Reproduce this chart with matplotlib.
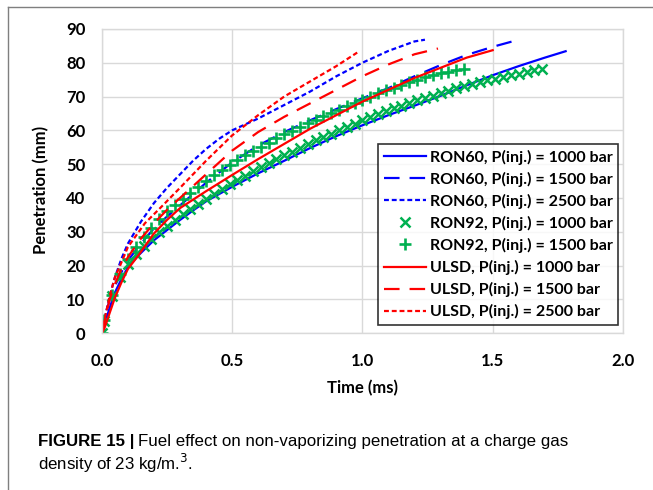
import matplotlib
matplotlib.use("Agg")
import matplotlib.pyplot as plt
from matplotlib.lines import Line2D

# RON60 (blue lines)
t_ron60_1000 = [0, 0.01, 0.03, 0.05, 0.075, 0.1, 0.14, 0.2, 0.25, 0.3, 0.35, 0.4, 0.5, 0.6, 0.7,
                0.8, 0.9, 1.0, 1.1, 1.2, 1.3, 1.4, 1.5, 1.6, 1.7, 1.78]
p_ron60_1000 = [0, 2.5, 7.5, 12, 16, 19.5, 23, 27.5, 30.5, 33.5, 36.3, 39, 43.3, 47.3, 51,
                54.8, 58.3, 61.5, 64.5, 67.3, 70.2, 73.3, 76.3, 79, 81.5, 83.4]
t_ron60_1500 = [0, 0.01, 0.03, 0.05, 0.075, 0.1, 0.15, 0.2, 0.25, 0.3, 0.4, 0.5, 0.6, 0.7, 0.8,
                0.9, 1.0, 1.1, 1.2, 1.3, 1.4, 1.5, 1.59]
p_ron60_1500 = [0, 4, 10, 14, 18, 21.5, 26.5, 31, 34.5, 37.8, 44.5, 50.5, 55.5, 59.5, 63,
                66.3, 69.5, 72.5, 76, 79.3, 82.3, 84.7, 86.6]
t_ron60_2500 = [0, 0.01, 0.03, 0.05, 0.075, 0.1, 0.15, 0.2, 0.25, 0.3, 0.35, 0.4, 0.45, 0.5, 0.6,
                0.7, 0.8, 0.9, 1.0, 1.1, 1.2, 1.24]
p_ron60_2500 = [0, 4, 11, 16.5, 22, 26.5, 33, 38.5, 43, 47, 51, 54.5, 57.5, 60, 63.5,
                67.5, 71.5, 76, 80, 83.5, 86.3, 86.8]

# RON92 (green markers)
t_ron92_1000 = [0, 0.01, 0.04, 0.07, 0.10, 0.13, 0.16, 0.19, 0.22, 0.25, 0.28, 0.31, 0.34, 0.37,
                0.40, 0.43, 0.46, 0.49, 0.52, 0.55, 0.58, 0.61, 0.64, 0.67, 0.70, 0.73, 0.76,
                0.79, 0.82, 0.85, 0.88, 0.91, 0.94, 0.97, 1.00, 1.03, 1.06, 1.09, 1.12, 1.15,
                1.18, 1.21, 1.24, 1.27, 1.30, 1.33, 1.36, 1.39, 1.42, 1.45, 1.48, 1.51, 1.54,
                1.57, 1.60, 1.63, 1.66, 1.69]
p_ron92_1000 = [0, 3.5, 11, 16.5, 20.5, 23.5, 25.8, 28, 30, 31.8, 33.5, 35.2, 36.8, 38.3,
                39.8, 41.2, 42.6, 44, 45.3, 46.6, 47.9, 49.1, 50.3, 51.5, 52.6, 53.7, 54.8,
                55.9, 57, 58, 59, 60, 61, 62, 63, 63.9, 64.8, 65.7, 66.5, 67.3,
                68.1, 68.9, 69.6, 70.3, 71, 71.7, 72.4, 73, 73.6, 74.2, 74.8, 75.3, 75.8,
                76.3, 76.8, 77.3, 77.7, 78.1]
t_ron92_1500 = [0, 0.01, 0.04, 0.07, 0.10, 0.13, 0.16, 0.19, 0.22, 0.25, 0.28, 0.31, 0.34, 0.37,
                0.40, 0.43, 0.46, 0.49, 0.52, 0.55, 0.58, 0.61, 0.64, 0.67, 0.70, 0.73, 0.76,
                0.79, 0.82, 0.85, 0.88, 0.91, 0.94, 0.97, 1.00, 1.03, 1.06, 1.09, 1.12, 1.15,
                1.18, 1.21, 1.24, 1.27, 1.30, 1.33, 1.36, 1.39]
p_ron92_1500 = [0, 4, 11.2, 17.5, 22, 25.5, 28.5, 31.2, 33.8, 36, 38, 39.8, 41.5, 43.3,
                45, 46.8, 48.3, 49.8, 51.2, 52.6, 53.9, 55.2, 56.4, 57.6, 58.8, 59.9, 61,
                62.1, 63.1, 64.1, 65.1, 66.1, 67.1, 68.1, 69.1, 70, 70.9, 71.8, 72.6, 73.4,
                74.2, 75, 75.7, 76.3, 76.9, 77.4, 77.8, 78.1]

# ULSD (red lines)
t_ulsd_1000 = [0, 0.01, 0.03, 0.05, 0.075, 0.1, 0.14, 0.2, 0.25, 0.3, 0.35, 0.4, 0.5, 0.6, 0.7,
               0.8, 0.9, 1.0, 1.1, 1.2, 1.3, 1.4, 1.5]
p_ulsd_1000 = [0, 1.5, 6, 10.5, 15, 19, 23, 29.5, 33.5, 37, 39.5, 42, 46.8, 51.5, 56,
               60.5, 64.5, 68.5, 72, 75.5, 78.5, 81.5, 83.7]
t_ulsd_1500 = [0, 0.01, 0.03, 0.05, 0.075, 0.1, 0.15, 0.2, 0.25, 0.3, 0.35, 0.4, 0.5, 0.6, 0.7,
               0.8, 0.9, 1.0, 1.1, 1.2, 1.29]
p_ulsd_1500 = [0, 3.5, 10, 14.5, 19, 22.5, 28, 32.5, 36.5, 40, 43.5, 47, 54, 59.5, 64,
               68, 72, 76, 79.5, 82.5, 84.2]
t_ulsd_2500 = [0, 0.01, 0.03, 0.05, 0.07, 0.1, 0.165, 0.23, 0.3, 0.4, 0.5, 0.6, 0.7, 0.8, 0.9, 0.98]
p_ulsd_2500 = [0, 4, 11, 16.5, 20, 25.5, 32.5, 37.5, 43, 51, 58.5, 64.5, 70, 74.5, 79, 83]

labels = ["RON60, P(inj.) = 1000 bar", "RON60, P(inj.) = 1500 bar", "RON60, P(inj.) = 2500 bar",
          "RON92, P(inj.) = 1000 bar", "RON92, P(inj.) = 1500 bar",
          "ULSD, P(inj.) = 1000 bar", "ULSD, P(inj.) = 1500 bar", "ULSD, P(inj.) = 2500 bar"]

BLUE = "#0000FF"
RED = "#FF0000"
GREEN = "#00B050"
LONG = (0, (7, 4.5))
SHORT = (0, (2.2, 1.3))

plt.rcParams['font.family'] = ['Lato', 'DejaVu Sans']

fig = plt.figure(figsize=(6.53, 4.9), dpi=100)
ax = fig.add_axes([0.156, 0.320, 0.798, 0.621])

lw = 1.6
ax.plot(t_ron60_1000, p_ron60_1000, color=BLUE, lw=lw, label=labels[0])
ax.plot(t_ron60_1500, p_ron60_1500, color=BLUE, lw=lw, linestyle=LONG, label=labels[1])
ax.plot(t_ron60_2500, p_ron60_2500, color=BLUE, lw=lw, linestyle=SHORT, label=labels[2])
ax.plot(t_ron92_1000, p_ron92_1000, color=GREEN, marker='x', ms=6.5, mew=1.8,
        linestyle='none', label=labels[3])
ax.plot(t_ron92_1500, p_ron92_1500, color=GREEN, marker='+', ms=8.5, mew=1.9,
        linestyle='none', label=labels[4])
ax.plot(t_ulsd_1000, p_ulsd_1000, color=RED, lw=lw, label=labels[5])
ax.plot(t_ulsd_1500, p_ulsd_1500, color=RED, lw=lw, linestyle=LONG, label=labels[6])
ax.plot(t_ulsd_2500, p_ulsd_2500, color=RED, lw=lw, linestyle=SHORT, label=labels[7])

ax.set_xlim(0, 2.0)
ax.set_ylim(0, 90)
ax.set_xticks([0, 0.5, 1.0, 1.5, 2.0])
ax.set_xticklabels(["0.0", "0.5", "1.0", "1.5", "2.0"])
ax.set_yticks(range(0, 91, 10))
ax.grid(True, color="#D9D9D9", lw=1.0)
ax.set_axisbelow(True)
for s in ax.spines.values():
    s.set_color("#D9D9D9")
    s.set_linewidth(1.0)
ax.tick_params(length=0, labelsize=12, pad=12)
ax.tick_params(axis='x', pad=14)
for lab in ax.get_xticklabels() + ax.get_yticklabels():
    lab.set_fontweight('bold')

ax.set_xlabel("Time (ms)", fontsize=12, fontweight='bold', labelpad=8)
ax.set_ylabel("Penetration (mm)", fontsize=12, fontweight='bold')
ax.yaxis.set_label_coords(-0.10, 0.47)

leg = ax.legend(loc='upper right', bbox_to_anchor=(618 / 653, 1 - 144 / 490),
                bbox_transform=fig.transFigure, borderaxespad=0,
                prop={'weight': 'bold', 'size': 11.5}, frameon=True, fancybox=False,
                edgecolor='black', handlelength=2.6, handletextpad=0.25,
                labelspacing=0.44, borderpad=0.35)
leg.get_frame().set_linewidth(1.2)

# outer frame (left and top)
fig.add_artist(Line2D([8 / 653, 8 / 653], [0, 1 - 7 / 490], transform=fig.transFigure,
                      color="#7F7F7F", lw=1.0))
fig.add_artist(Line2D([8 / 653, 1], [1 - 7 / 490, 1 - 7 / 490], transform=fig.transFigure,
                      color="#7F7F7F", lw=1.0))

# caption
cap_font = ['Liberation Sans', 'DejaVu Sans']
cap_size = 12.2
y1 = 1 - 446 / 490
y2 = 1 - 470 / 490
bold = fig.text(38 / 653, y1, "FIGURE 15 |", fontsize=cap_size, fontweight='bold',
                family=cap_font, va='baseline')
fig.canvas.draw()
bb = bold.get_window_extent()
fig.text((bb.x1 + 4) / 653, y1,
         "Fuel effect on non-vaporizing penetration at a charge gas",
         fontsize=cap_size, family=cap_font, va='baseline')
fig.text(38 / 653, y2, r"density of 23 kg/m.$^{3}$.", fontsize=cap_size,
         family=cap_font, va='baseline')

fig.savefig("out.png", dpi=100)
